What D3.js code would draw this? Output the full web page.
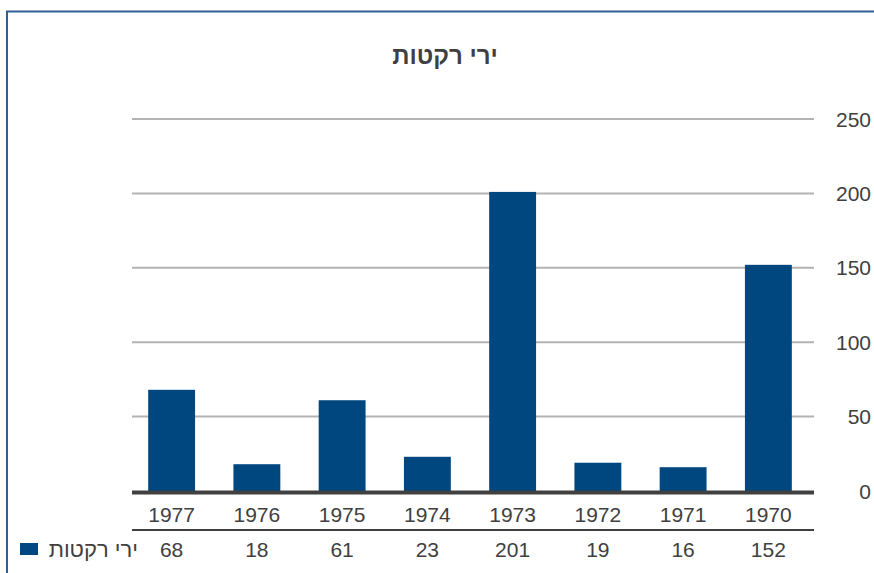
<!DOCTYPE html>
<html>
<head>
<meta charset="utf-8">
<script src="https://cdn.jsdelivr.net/npm/d3@7"></script>
<style>
  body { margin: 0; background: #fff; }
  text { font-family: "Liberation Sans", "DejaVu Sans", sans-serif; fill: #404040; }
</style>
</head>
<body>
<script>
// data
var years = ["1977", "1976", "1975", "1974", "1973", "1972", "1971", "1970"];
var rockets = [68, 18, 61, 23, 201, 19, 16, 152];
var yTicks = [0, 50, 100, 150, 200, 250];
var seriesName = "ירי רקטות";
var title = "ירי רקטות";

var width = 874, height = 573;
var svg = d3.select("body").append("svg")
  .attr("width", width)
  .attr("height", height);

// border (left + top)
svg.append("path")
  .attr("d", "M7,573 V11.5 H874")
  .attr("fill", "none")
  .attr("stroke", "#2f5f97")
  .attr("stroke-width", 2);

var plot = {left: 132, right: 814, top: 119, bottom: 491};

var x = d3.scaleBand()
  .domain(years)
  .range([129, 811])
  .paddingInner(0.45)
  .paddingOuter(0.225);

var y = d3.scaleLinear()
  .domain([0, 250])
  .range([plot.bottom, plot.top]);

// title
svg.append("text")
  .attr("x", 445)
  .attr("y", 64)
  .attr("text-anchor", "middle")
  .attr("font-size", 24)
  .attr("font-weight", "bold")
  .text(title);

// gridlines
svg.selectAll(".grid")
  .data(yTicks.filter(function(d){ return d > 0; }))
  .enter()
  .append("line")
  .attr("class", "grid")
  .attr("x1", plot.left)
  .attr("x2", plot.right)
  .attr("y1", function(d){ return y(d); })
  .attr("y2", function(d){ return y(d); })
  .attr("stroke", "#b3b3b3")
  .attr("stroke-width", 2);

// y labels on the right
svg.selectAll(".ylab")
  .data(yTicks)
  .enter()
  .append("text")
  .attr("class", "ylab")
  .attr("x", 871)
  .attr("y", function(d){ return y(d); })
  .attr("dy", "0.36em")
  .attr("text-anchor", "end")
  .attr("font-size", 21)
  .text(function(d){ return d; });

// bars
svg.selectAll(".bar")
  .data(rockets)
  .enter()
  .append("rect")
  .attr("class", "bar")
  .attr("x", function(d, i){ return x(years[i]); })
  .attr("y", function(d){ return y(d); })
  .attr("width", x.bandwidth())
  .attr("height", function(d){ return y(0) - y(d); })
  .attr("fill", "#00467f");

// baseline
svg.append("line")
  .attr("x1", plot.left)
  .attr("x2", plot.right)
  .attr("y1", y(0) + 1.5)
  .attr("y2", y(0) + 1.5)
  .attr("stroke", "#404040")
  .attr("stroke-width", 4);

// data table: years
svg.selectAll(".year")
  .data(years)
  .enter()
  .append("text")
  .attr("class", "year")
  .attr("x", function(d){ return x(d) + x.bandwidth() / 2; })
  .attr("y", 522)
  .attr("text-anchor", "middle")
  .attr("font-size", 21)
  .text(function(d){ return d; });

svg.append("line")
  .attr("x1", plot.left)
  .attr("x2", plot.right)
  .attr("y1", 530)
  .attr("y2", 530)
  .attr("stroke", "#404040")
  .attr("stroke-width", 2);

svg.selectAll(".val")
  .data(rockets)
  .enter()
  .append("text")
  .attr("class", "val")
  .attr("x", function(d, i){ return x(years[i]) + x.bandwidth() / 2; })
  .attr("y", 557)
  .attr("text-anchor", "middle")
  .attr("font-size", 21)
  .text(function(d){ return d; });

// legend key
svg.append("rect")
  .attr("x", 20)
  .attr("y", 543)
  .attr("width", 18)
  .attr("height", 12)
  .attr("fill", "#00467f");

svg.append("text")
  .attr("x", 138)
  .attr("y", 557)
  .attr("text-anchor", "end")
  .attr("font-size", 22)
  .text(seriesName);
</script>
</body>
</html>
